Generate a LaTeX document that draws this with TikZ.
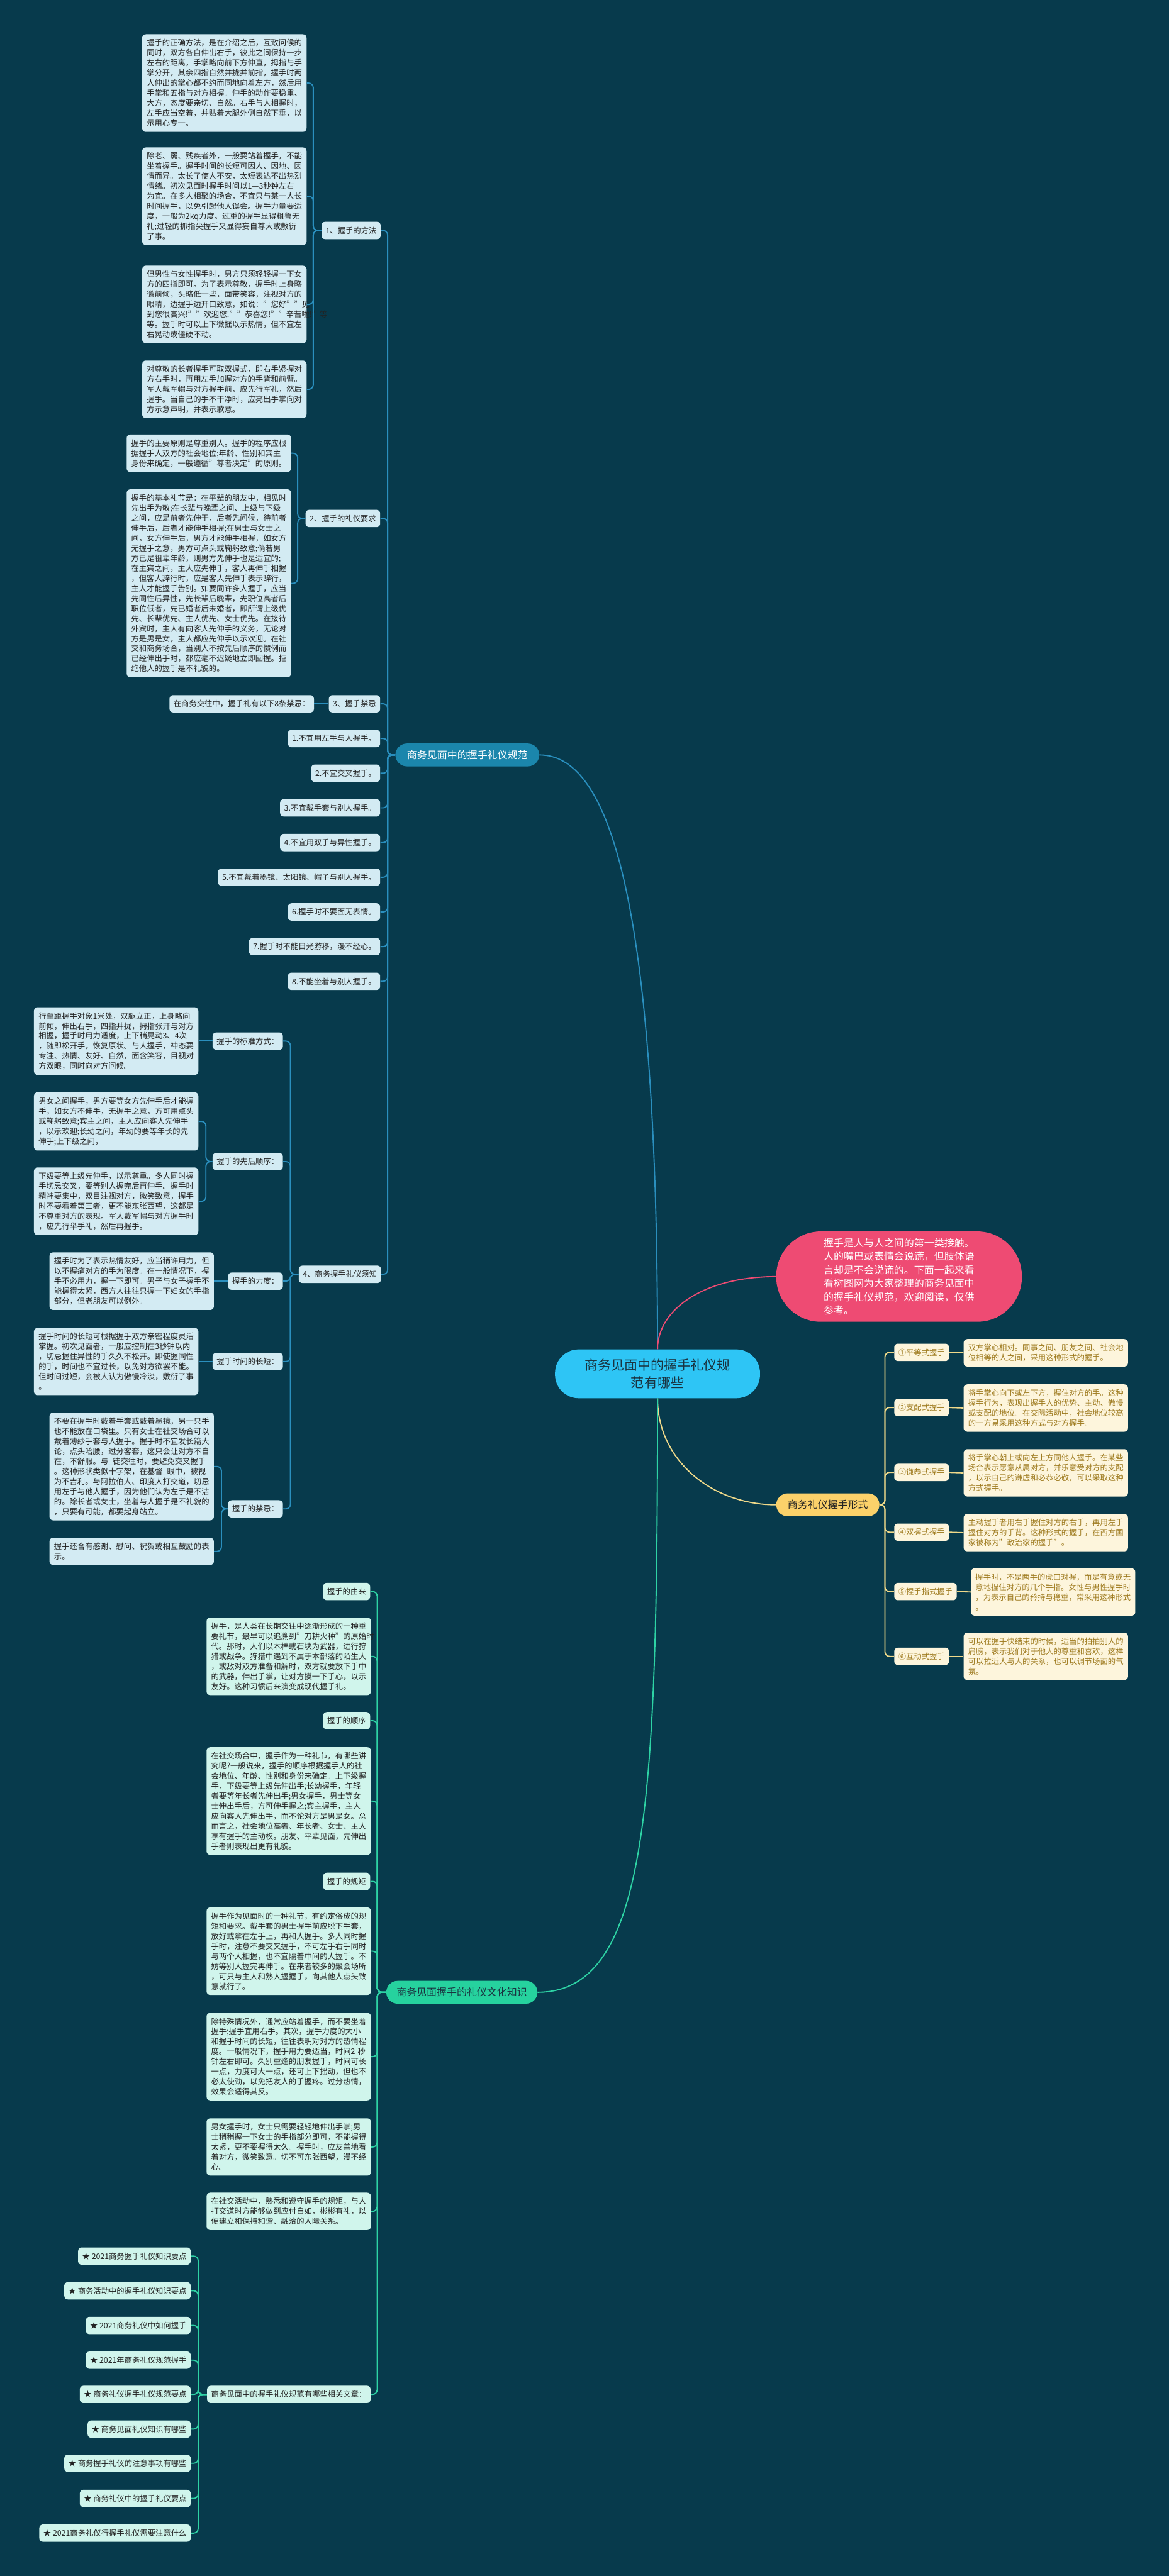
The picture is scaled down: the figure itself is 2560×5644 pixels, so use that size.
\documentclass[tikz,border=0pt]{standalone}
\usepackage{fontspec}
\setmainfont{Noto Sans CJK SC}
\definecolor{bg}{HTML}{073A4C}
\definecolor{txtc}{HTML}{222222}
\definecolor{bluebox}{HTML}{D3EBF3}
\definecolor{blueline}{HTML}{2A8FBE}
\definecolor{brc}{HTML}{1B86AC}
\definecolor{mainc}{HTML}{2EC5F5}
\definecolor{maintxt}{HTML}{1A3340}
\definecolor{pinkc}{HTML}{EE4B73}
\definecolor{yelnode}{HTML}{FBD16A}
\definecolor{yelbox}{HTML}{FDF5DC}
\definecolor{yeltxt}{HTML}{9E7A1E}
\definecolor{yelline}{HTML}{EFD98A}
\definecolor{greennode}{HTML}{26D29E}
\definecolor{greenbox}{HTML}{D0F5EC}
\definecolor{greenline}{HTML}{2ED3A5}
\begin{document}
\begin{tikzpicture}[x=0.5pt,y=-0.5pt,
  every node/.style={font=\fontsize{8.5pt}{11pt}\selectfont,text=txtc},
  boxbase/.style={anchor=west,align=left,text width=170pt,inner xsep=5pt,inner ysep=5.5pt,rounded corners=4pt},
  bluebx/.style={boxbase,fill=bluebox},
  greenbx/.style={boxbase,fill=greenbox},
  yelbx/.style={boxbase,fill=yelbox,text=yeltxt},
  smallbase/.style={minimum height=19pt,inner xsep=4.5pt,inner ysep=2pt,rounded corners=4pt},
  bsmall/.style={smallbase,fill=bluebox,anchor=east},
  gsmall/.style={smallbase,fill=greenbox,anchor=east},
  ysmall/.style={smallbase,fill=yelbox,text=yeltxt,anchor=west},
  blueln/.style={draw=blueline,line width=1.3pt,rounded corners=5pt},
  greenln/.style={draw=greenline,line width=1.3pt,rounded corners=5pt},
  yelln/.style={draw=yelline,line width=1.3pt,rounded corners=5pt},
  pinkln/.style={draw=pinkc,line width=1.3pt}]
\fill[bg] (0,0) rectangle (2560,5644);
\useasboundingbox (0,0) rectangle (2560,5644);

% ---------- central nodes ----------
\node[fill=mainc,text=maintxt,align=center,font=\fontsize{14.5pt}{19.5pt}\selectfont,minimum width=224.5pt,minimum height=53.5pt,rounded corners=26pt,inner sep=2pt] (m) at (1440,3010) {商务见面中的握手礼仪规\\范有哪些};
\node[fill=brc,text=white,font=\fontsize{11pt}{13pt}\selectfont,minimum width=157.5pt,minimum height=25pt,rounded corners=12.5pt,inner sep=2pt] (br) at (1023.5,1654) {商务见面中的握手礼仪规范};
\node[fill=pinkc,text=white,align=left,text width=165pt,font=\fontsize{11pt}{14.8pt}\selectfont,minimum width=269pt,minimum height=99pt,rounded corners=49pt] (p) at (1969,2797) {握手是人与人之间的第一类接触。\\人的嘴巴或表情会说谎，但肢体语\\言却是不会说谎的。下面一起来看\\看树图网为大家整理的商务见面中\\的握手礼仪规范，欢迎阅读，仅供\\参考。};
\node[fill=yelnode,text=txtc,font=\fontsize{11pt}{13pt}\selectfont,minimum width=113pt,minimum height=25pt,rounded corners=12.5pt,inner sep=2pt] (yn) at (1813,3297) {商务礼仪握手形式};
\node[fill=greennode,text=maintxt,font=\fontsize{11pt}{13pt}\selectfont,minimum width=165.5pt,minimum height=25pt,rounded corners=12.5pt,inner sep=2pt] (gn) at (1011.5,4365) {商务见面握手的礼仪文化知识};

% ---------- blue section ----------
\node[bsmall] (n1) at (834,505) {1、握手的方法};
\node[bluebx] (a1) at (311,182) {握手的正确方法，是在介绍之后，互致问候的\\同时，双方各自伸出右手，彼此之间保持一步\\左右的距离，手掌略向前下方伸直，拇指与手\\掌分开，其余四指自然并拢并前指，握手时两\\人伸出的掌心都不约而同地向着左方，然后用\\手掌和五指与对方相握。伸手的动作要稳重、\\大方，态度要亲切、自然。右手与人相握时，\\左手应当空着，并贴着大腿外侧自然下垂，以\\示用心专一。};
\node[bluebx] (a2) at (311,430) {除老、弱、残疾者外，一般要站着握手，不能\\坐着握手。握手时间的长短可因人、因地、因\\情而异。太长了使人不安，太短表达不出热烈\\情绪。初次见面时握手时间以1—3秒钟左右\\为宜。在多人相聚的场合，不宜只与某一人长\\时间握手，以免引起他人误会。握手力量要适\\度，一般为2kq力度。过重的握手显得粗鲁无\\礼;过轻的抓指尖握手又显得妄自尊大或敷衍\\了事。};
\node[bluebx] (a3) at (311,667) {但男性与女性握手时，男方只须轻轻握一下女\\方的四指即可。为了表示尊敬，握手时上身略\\微前倾，头略低一些，面带笑容，注视对方的\\眼睛，边握手边开口致意，如说："您好""见\\到您很高兴!""欢迎您!""恭喜您!""辛苦啦!"等\\等。握手时可以上下微摇以示热情，但不宜左\\右晃动或僵硬不动。};
\node[bluebx] (a4) at (311,853) {对尊敬的长者握手可取双握式，即右手紧握对\\方右手时，再用左手加握对方的手背和前臂。\\军人戴军帽与对方握手前，应先行军礼，然后\\握手。当自己的手不干净时，应亮出手掌向对\\方示意声明，并表示歉意。};
\foreach \t in {a1,a2,a3,a4} \draw[blueln] (n1.west) -- (686,505) |- (\t.east);

\node[bsmall] (n2) at (833,1136) {2、握手的礼仪要求};
\node[bluebx] (b1) at (277,993) {握手的主要原则是尊重别人。握手的程序应根\\据握手人双方的社会地位;年龄、性别和宾主\\身份来确定，一般遵循"尊者决定"的原则。};
\node[bluebx] (b2) at (277,1278) {握手的基本礼节是：在平辈的朋友中，相见时\\先出手为敬;在长辈与晚辈之间、上级与下级\\之间，应是前者先伸于，后者先问候，待前者\\伸手后，后者才能伸手相握;在男士与女士之\\间，女方伸手后，男方才能伸手相握，如女方\\无握手之意，男方可点头或鞠躬致意;倘若男\\方已是祖辈年龄，则男方先伸手也是适宜的;\\在主宾之间，主人应先伸手，客人再伸手相握\\，但客人辞行时，应是客人先伸手表示辞行，\\主人才能握手告别。如要同许多人握手，应当\\先同性后异性，先长辈后晚辈，先职位高者后\\职位低者，先已婚者后未婚者，即所谓上级优\\先、长辈优先、主人优先、女士优先。在接待\\外宾时，主人有向客人先伸手的义务，无论对\\方是男是女，主人都应先伸手以示欢迎。在社\\交和商务场合，当别人不按先后顺序的惯例而\\已经伸出手时，都应毫不迟疑地立即回握。拒\\绝他人的握手是不礼貌的。};
\foreach \t in {b1,b2} \draw[blueln] (n2.west) -- (652,1136) |- (\t.east);

\node[bsmall] (n3) at (833,1542) {3、握手禁忌};
\node[bsmall] (d0) at (688,1542) {在商务交往中，握手礼有以下8条禁忌：};
\draw[blueln] (n3.west) -- (d0.east);
\node[bsmall] (i1) at (833,1618) {1.不宜用左手与人握手。};
\node[bsmall] (i2) at (833,1694) {2.不宜交叉握手。};
\node[bsmall] (i3) at (833,1770) {3.不宜戴手套与别人握手。};
\node[bsmall] (i4) at (833,1846) {4.不宜用双手与异性握手。};
\node[bsmall] (i5) at (833,1922) {5.不宜戴着墨镜、太阳镜、帽子与别人握手。};
\node[bsmall] (i6) at (833,1998) {6.握手时不要面无表情。};
\node[bsmall] (i7) at (833,2074) {7.握手时不能目光游移，漫不经心。};
\node[bsmall] (i8) at (833,2150) {8.不能坐着与别人握手。};

\node[bsmall] (n4) at (835,2792) {4、商务握手礼仪须知};
\foreach \t in {n1,n2,n3,i1,i2,i3,i4,i5,i6,i7,i8,n4} \draw[blueln] (br.west) -- (849,1654) |- (\t.east);

\node[bsmall] (s1) at (620,2281) {握手的标准方式：};
\node[bsmall] (s2) at (620,2545) {握手的先后顺序：};
\node[bsmall] (s3) at (620,2807) {握手的力度：};
\node[bsmall] (s4) at (620,2983) {握手时间的长短：};
\node[bsmall] (s5) at (620,3306) {握手的禁忌：};
\foreach \t in {s1,s2,s3,s4,s5} \draw[blueln] (n4.west) -- (636,2792) |- (\t.east);

\node[bluebx] (c1) at (74,2281) {行至距握手对象1米处，双腿立正，上身略向\\前倾，伸出右手，四指并拢，拇指张开与对方\\相握，握手时用力适度，上下稍晃动3、4次\\，随即松开手，恢复原状。与人握手，神态要\\专注、热情、友好、自然，面含笑容，目视对\\方双眼，同时向对方问候。};
\draw[blueln] (s1.west) -- (c1.east);
\node[bluebx] (c2) at (74,2457) {男女之间握手，男方要等女方先伸手后才能握\\手，如女方不伸手，无握手之意，方可用点头\\或鞠躬致意;宾主之间，主人应向客人先伸手\\，以示欢迎;长幼之间，年幼的要等年长的先\\伸手;上下级之间，};
\node[bluebx] (c3) at (74,2632) {下级要等上级先伸手，以示尊重。多人同时握\\手切忌交叉，要等别人握完后再伸手。握手时\\精神要集中，双目注视对方，微笑致意，握手\\时不要看着第三者，更不能东张西望，这都是\\不尊重对方的表现。军人戴军帽与对方握手时\\，应先行举手礼，然后再握手。};
\foreach \t in {c2,c3} \draw[blueln] (s2.west) -- (451,2545) |- (\t.east);
\node[bluebx] (c4) at (108,2807) {握手时为了表示热情友好，应当稍许用力，但\\以不握痛对方的手为限度。在一般情况下，握\\手不必用力，握一下即可。男子与女子握手不\\能握得太紧，西方人往往只握一下妇女的手指\\部分，但老朋友可以例外。};
\draw[blueln] (s3.west) -- (c4.east);
\node[bluebx] (c5) at (74,2983) {握手时间的长短可根据握手双方亲密程度灵活\\掌握。初次见面者，一般应控制在3秒钟以内\\，切忌握住异性的手久久不松开。即使握同性\\的手，时间也不宜过长，以免对方欲罢不能。\\但时间过短，会被人认为傲慢冷淡，敷衍了事\\。};
\draw[blueln] (s4.west) -- (c5.east);
\node[bluebx] (c6) at (108,3213) {不要在握手时戴着手套或戴着墨镜，另一只手\\也不能放在口袋里。只有女士在社交场合可以\\戴着薄纱手套与人握手。握手时不宜发长篇大\\论，点头哈腰，过分客套，这只会让对方不自\\在，不舒服。与\_徒交往时，要避免交叉握手\\。这种形状类似十字架，在基督\_眼中，被视\\为不吉利。与阿拉伯人、印度人打交道，切忌\\用左手与他人握手，因为他们认为左手是不洁\\的。除长者或女士，坐着与人握手是不礼貌的\\，只要有可能，都要起身站立。};
\node[bluebx] (c7) at (108,3399) {握手还含有感谢、慰问、祝贺或相互鼓励的表\\示。};
\foreach \t in {c6,c7} \draw[blueln] (s5.west) -- (485,3306) |- (\t.east);

% ---------- yellow section ----------
\node[ysmall] (y1) at (1958,2963) {①平等式握手};
\node[ysmall] (y2) at (1958,3084) {②支配式握手};
\node[ysmall] (y3) at (1958,3226) {③谦恭式握手};
\node[ysmall] (y4) at (1958,3357) {④双握式握手};
\node[ysmall] (y5) at (1958,3487) {⑤捏手指式握手};
\node[ysmall] (y6) at (1958,3629) {⑥互动式握手};
\foreach \t in {y1,y2,y3,y4,y5,y6} \draw[yelln] (yn.east) -- (1938,3297) |- (\t.west);
\node[yelbx] (t1) at (2110,2964) {双方掌心相对。同事之间、朋友之间、社会地\\位相等的人之间，采用这种形式的握手。};
\node[yelbx] (t2) at (2110,3085) {将手掌心向下或左下方，握住对方的手。这种\\握手行为，表现出握手人的优势、主动、傲慢\\或支配的地位。在交际活动中，社会地位较高\\的一方易采用这种方式与对方握手。};
\node[yelbx] (t3) at (2110,3227) {将手掌心朝上或向左上方同他人握手。在某些\\场合表示愿意从属对方，并乐意受对方的支配\\，以示自己的谦虚和必恭必敬，可以采取这种\\方式握手。};
\node[yelbx] (t4) at (2110,3358) {主动握手者用右手握住对方的右手，再用左手\\握住对方的手背。这种形式的握手，在西方国\\家被称为"政治家的握手"。};
\node[yelbx] (t5) at (2126,3488) {握手时，不是两手的虎口对握，而是有意或无\\意地捏住对方的几个手指。女性与男性握手时\\，为表示自己的矜持与稳重，常采用这种形式\\。};
\node[yelbx] (t6) at (2110,3629) {可以在握手快结束的时候，适当的拍拍别人的\\肩膀，表示我们对于他人的尊重和喜欢，这样\\可以拉近人与人的关系，也可以调节场面的气\\氛。};
\draw[yelln] (y1.east) -- (t1.west);
\draw[yelln] (y2.east) -- (t2.west);
\draw[yelln] (y3.east) -- (t3.west);
\draw[yelln] (y4.east) -- (t4.west);
\draw[yelln] (y5.east) -- (t5.west);
\draw[yelln] (y6.east) -- (t6.west);

% ---------- green section ----------
\node[gsmall] (gs1) at (811,3487) {握手的由来};
\node[greenbx] (g1) at (452,3629) {握手，是人类在长期交往中逐渐形成的一种重\\要礼节，最早可以追溯到"刀耕火种"的原始时\\代。那时，人们以木棒或石块为武器，进行狩\\猎或战争。狩猎中遇到不属于本部落的陌生人\\，或敌对双方准备和解时，双方就要放下手中\\的武器，伸出手掌，让对方摸一下手心，以示\\友好。这种习惯后来演变成现代握手礼。};
\node[gsmall] (gs2) at (811,3770) {握手的顺序};
\node[greenbx] (g2) at (452,3946) {在社交场合中，握手作为一种礼节，有哪些讲\\究呢?一般说来，握手的顺序根据握手人的社\\会地位、年龄、性别和身份来确定。上下级握\\手，下级要等上级先伸出手;长幼握手，年轻\\者要等年长者先伸出手;男女握手，男士等女\\士伸出手后，方可伸手握之;宾主握手，主人\\应向客人先伸出手，而不论对方是男是女。总\\而言之，社会地位高者、年长者、女士、主人\\享有握手的主动权。朋友、平辈见面，先伸出\\手者则表现出更有礼貌。};
\node[gsmall] (gs3) at (811,4122) {握手的规矩};
\node[greenbx] (g3) at (452,4275) {握手作为见面时的一种礼节，有约定俗成的规\\矩和要求。戴手套的男士握手前应脱下手套，\\放好或拿在左手上，再和人握手。多人同时握\\手时，注意不要交叉握手，不可左手右手同时\\与两个人相握，也不宜隔着中间的人握手。不\\妨等别人握完再伸手。在来者较多的聚会场所\\，可只与主人和熟人握握手，向其他人点头致\\意就行了。};
\node[greenbx] (g4) at (452,4506) {除特殊情况外，通常应站着握手，而不要坐着\\握手;握手宜用右手。其次，握手力度的大小\\和握手时间的长短，往往表明对对方的热情程\\度。一般情况下，握手用力要适当，时间2 秒\\钟左右即可。久别重逢的朋友握手，时间可长\\一点，力度可大一点，还可上下摇动，但也不\\必太使劲，以免把友人的手握疼。过分热情，\\效果会适得其反。};
\node[greenbx] (g5) at (452,4704) {男女握手时，女士只需要轻轻地伸出手掌;男\\士稍稍握一下女士的手指部分即可，不能握得\\太紧，更不要握得太久。握手时，应友善地看\\着对方，微笑致意。切不可东张西望，漫不经\\心。};
\node[greenbx] (g6) at (452,4845) {在社交活动中，熟悉和遵守握手的规矩，与人\\打交道时方能够做到应付自如，彬彬有礼，以\\便建立和保持和谐、融洽的人际关系。};
\node[gsmall] (rn) at (812,5246) {商务见面中的握手礼仪规范有哪些相关文章：};
\foreach \t in {gs1,g1,gs2,g2,gs3,g3,g4,g5,g6,rn} \draw[greenln] (gn.west) -- (826,4365) |- (\t.east);

\node[gsmall] (k1) at (418,4943) {★ 2021商务握手礼仪知识要点};
\node[gsmall] (k2) at (418,5019) {★ 商务活动中的握手礼仪知识要点};
\node[gsmall] (k3) at (418,5095) {★ 2021商务礼仪中如何握手};
\node[gsmall] (k4) at (418,5171) {★ 2021年商务礼仪规范握手};
\node[gsmall] (k5) at (418,5246) {★ 商务礼仪握手礼仪规范要点};
\node[gsmall] (k6) at (418,5322) {★ 商务见面礼仪知识有哪些};
\node[gsmall] (k7) at (418,5397) {★ 商务握手礼仪的注意事项有哪些};
\node[gsmall] (k8) at (418,5474) {★ 商务礼仪中的握手礼仪要点};
\node[gsmall] (k9) at (418,5550) {★ 2021商务礼仪行握手礼仪需要注意什么};
\foreach \t in {k1,k2,k3,k4,k5,k6,k7,k8,k9} \draw[greenln] (rn.west) -- (434,5246) |- (\t.east);

% ---------- main connectors ----------
\draw[blueln] (m.north) .. controls (1440,1950) and (1330,1654) .. (br.east);
\draw[pinkln] (m.north) .. controls (1440,2870) and (1540,2797) .. (p.west);
\draw[yelln] (m.south) .. controls (1440,3200) and (1560,3297) .. (yn.west);
\draw[greenln] (m.south) .. controls (1440,3950) and (1420,4365) .. (gn.east);
\end{tikzpicture}
\end{document}
